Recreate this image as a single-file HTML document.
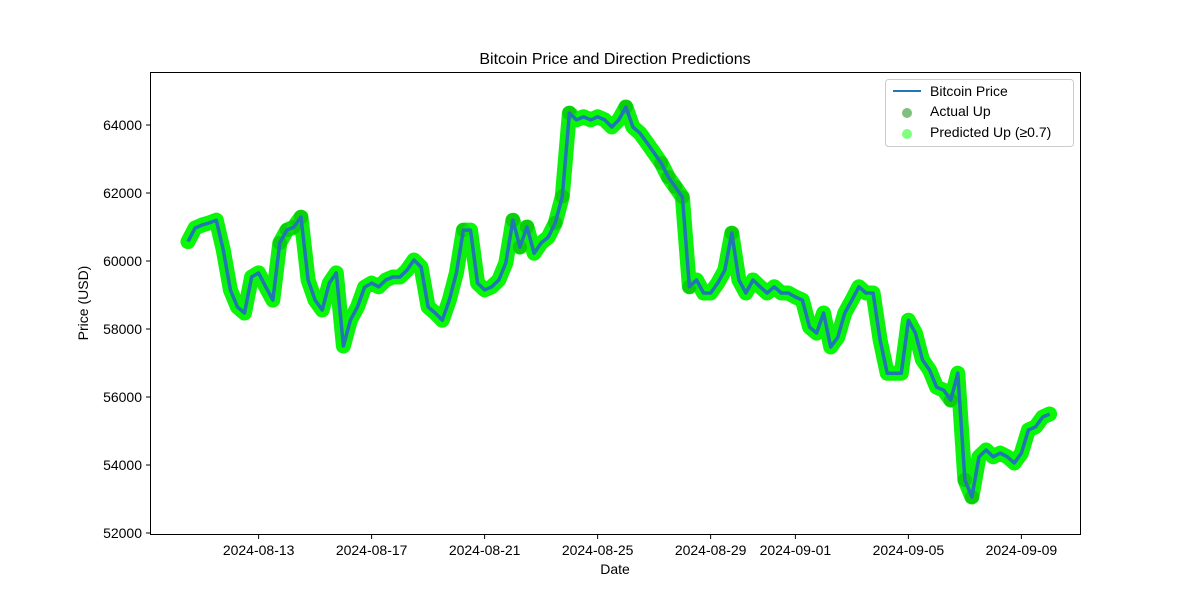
<!DOCTYPE html>
<html><head><meta charset="utf-8"><style>
body{margin:0;background:#fff;}
svg text{font-family:"Liberation Sans","DejaVu Sans",sans-serif;fill:#000;}
</style></head><body>
<svg id="chart" width="1200" height="600" xmlns="http://www.w3.org/2000/svg">
<rect width="1200" height="600" fill="#fff"/>
<text x="615" y="64" text-anchor="middle" font-size="16">Bitcoin Price and Direction Predictions</text>
<g id="marks"></g>
<rect x="150.5" y="72.5" width="930" height="462" fill="none" stroke="#000" stroke-width="1"/>
<g id="axes"></g>
<text x="615" y="574" text-anchor="middle" font-size="14">Date</text>
<text transform="translate(88,303) rotate(-90)" text-anchor="middle" font-size="14">Price (USD)</text>
<g>
<rect x="885.5" y="79.5" width="188" height="67" rx="3" fill="#fff" fill-opacity="0.8" stroke="#ccc"/>
<line x1="893" y1="91" x2="921" y2="91" stroke="#1f77b4" stroke-width="2"/>
<text x="930" y="96" font-size="14">Bitcoin Price</text>
<circle cx="907" cy="113" r="5" fill="green" fill-opacity="0.5"/>
<text x="930" y="116" font-size="14">Actual Up</text>
<circle cx="907" cy="134" r="5" fill="lime" fill-opacity="0.5"/>
<text x="930" y="137" font-size="14">Predicted Up (≥0.7)</text>
</g>
</svg>
<script>
const stepHours = 6;
const prices = [60570,60970,61060,61120,61200,60320,59150,58650,58470,59530,59650,59240,58850,60530,60910,61000,61290,59440,58850,58560,59350,59650,57500,58260,58650,59230,59350,59240,59440,59530,59530,59730,60030,59820,58650,58470,58260,58850,59650,60910,60910,59350,59150,59240,59440,59940,61200,60410,61000,60230,60530,60700,61120,61900,64350,64150,64240,64150,64240,64150,63940,64150,64530,63940,63760,63470,63180,62880,62470,62180,61880,59240,59440,59060,59060,59350,59730,60820,59440,59060,59440,59240,59060,59240,59060,59060,58940,58850,58060,57880,58470,57470,57760,58470,58850,59240,59060,59060,57680,56700,56700,56700,58260,57880,57090,56790,56290,56200,55910,56700,53560,53060,54240,54440,54240,54350,54240,54060,54350,55030,55120,55410,55500];
const actualUp = [0,0,0,0,0,0,0,0,0,0,0,0,0,1,1,1,1,0,0,0,0,0,0,0,0,0,0,0,0,0,0,0,0,0,0,0,0,0,0,1,0,0,0,0,0,0,1,1,1,0,0,0,1,1,1,0,0,0,0,0,0,0,1,0,0,0,0,1,1,1,1,1,0,0,0,0,0,1,0,0,0,0,0,0,0,0,0,0,0,0,0,0,0,0,0,0,0,0,0,0,0,0,0,0,0,0,0,0,1,0,1,1,0,0,0,0,0,0,0,0,0,0,0];
const yTicks = [52000,54000,56000,58000,60000,62000,64000];
const xTickLabels = ["2024-08-13","2024-08-17","2024-08-21","2024-08-25","2024-08-29","2024-09-01","2024-09-05","2024-09-09"];
const xTickHours = [60,156,252,348,444,516,612,708];

const NS="http://www.w3.org/2000/svg";
function xs(h){return 188 + h/24*28.25;}
function ys(v){return 533 - (v-52000)*0.034;}
const marks=document.getElementById('marks');
const axes=document.getElementById('axes');
function mk(tag,attrs,parent){const e=document.createElementNS(NS,tag);for(const k in attrs)e.setAttribute(k,attrs[k]);parent.appendChild(e);return e;}
const d=prices.map((p,i)=>(i?'L':'M')+xs(i*stepHours).toFixed(1)+','+ys(p).toFixed(1)).join('');

const band=mk('path',{d:d,fill:'none',stroke:'#10f010','stroke-width':15,'stroke-linejoin':'round','stroke-linecap':'round'},marks);


prices.forEach((p,i)=>{
  if(actualUp[i]){
    const c=mk('circle',{cx:xs(i*stepHours),cy:ys(p),r:7,fill:'#1a8a1a','fill-opacity':0.8},marks);
    
    
  }
});
prices.forEach((p,i)=>{
  const c=mk('circle',{cx:xs(i*stepHours),cy:ys(p),r:7,fill:'lime','fill-opacity':0.5},marks);
  
  
});
const line=mk('path',{d:d,fill:'none',stroke:'#1f77b4','stroke-width':3.5,'stroke-linejoin':'round'},marks);



yTicks.forEach(v=>{
  const y=ys(v);
  const t=mk('line',{x1:146,x2:150,y1:y,y2:y,stroke:'#000'},axes);
  
  
  const l=mk('text',{x:142,y:y+5,'text-anchor':'end','font-size':14},axes);
  l.textContent=v;
  
  
});
xTickHours.forEach((h,i)=>{
  const x=xs(h);
  const t=mk('line',{x1:x,x2:x,y1:535,y2:539,stroke:'#000'},axes);
  
  
  const l=mk('text',{x:x,y:555,'text-anchor':'middle','font-size':14},axes);
  l.textContent=xTickLabels[i];
  
  
});
</script>
</body></html>
